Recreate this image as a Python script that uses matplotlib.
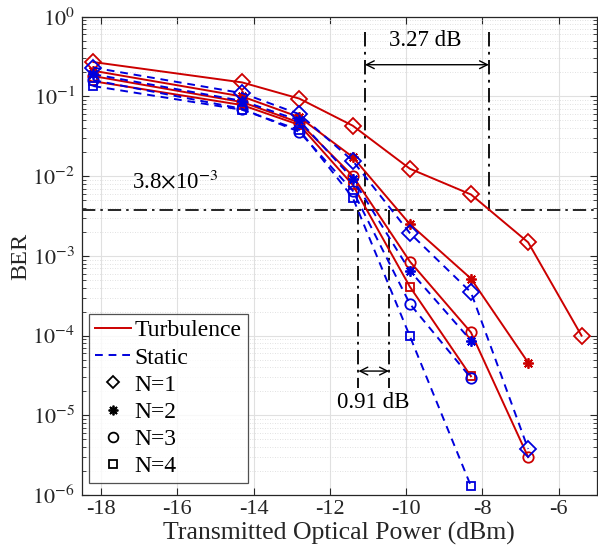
import matplotlib
matplotlib.use("Agg")
import matplotlib.pyplot as plt
import numpy as np
from matplotlib.lines import Line2D

plt.rcParams['font.family'] = ['Liberation Serif', 'DejaVu Serif']
plt.rcParams['mathtext.fontset'] = 'stix'

# ---- data ----
x_all = [-18.2, -14.3, -12.8, -11.4, -9.9, -8.3, -6.8, -5.4]

turb_n1 = [0.27, 0.15, 0.094, 0.043, 0.0124, 0.0059, 0.00148, 1.0e-4]
turb_n2 = [0.21, 0.10, 0.055, 0.0174, 0.0025, 0.00052, 4.6e-5]
turb_n3 = [0.18, 0.085, 0.047, 0.0101, 0.00085, 0.00011, 3.0e-6]
turb_n4 = [0.155, 0.078, 0.044, 0.0078, 0.00041, 3.1e-5]

stat_n1 = [0.23, 0.11, 0.060, 0.0156, 0.00193, 0.00035, 3.8e-6]
stat_n2 = [0.19, 0.088, 0.050, 0.0093, 0.00065, 8.7e-5]
stat_n3 = [0.16, 0.070, 0.036, 0.0066, 0.00025, 2.95e-5]
stat_n4 = [0.135, 0.068, 0.038, 0.0054, 9.8e-5, 1.3e-6]

threshold = 3.8e-3
gap_big = (-11.08, -7.83)
gap_small = (-11.25, -10.45)

xticks = [-18, -16, -14, -12, -10, -8, -6]
series_labels = ['Turbulence', 'Static', 'N=1', 'N=2', 'N=3', 'N=4']

RED = '#cc0000'
BLUE = '#0000dd'
ast = (8, 2, 0)
mk = ['D', ast, 'o', 's']
msz = [8, 7.5, 7.5, 5.5]
DASHDOT = (0, (8, 3, 1.5, 3))

fig = plt.figure(figsize=(5.98, 5.57), dpi=100)
ax = fig.add_axes([0.137, 0.111, 0.861, 0.859])

turb = [turb_n1, turb_n2, turb_n3, turb_n4]
stat = [stat_n1, stat_n2, stat_n3, stat_n4]

for i, ys in enumerate(turb):
    xs = x_all[:len(ys)]
    ax.semilogy(xs, ys, '-', color=RED, lw=1.4, marker=mk[i], ms=msz[i],
                mfc='none', mec=RED, mew=1.3, zorder=3)
for i, ys in enumerate(stat):
    xs = x_all[:len(ys)]
    ax.semilogy(xs, ys, '--', color=BLUE, lw=1.4, marker=mk[i], ms=msz[i],
                mfc='none', mec=BLUE, mew=1.3, zorder=3, dashes=(4, 3))

# threshold line
ax.axhline(threshold, color='black', lw=1.2, ls=DASHDOT, zorder=2)

# 3.27 dB marks
for xv in gap_big:
    ax.plot([xv, xv], [0.65, threshold], color='black', lw=1.3, ls=DASHDOT, zorder=2)
ax.annotate('', xy=(gap_big[0], 0.25), xytext=(gap_big[1], 0.25),
            arrowprops=dict(arrowstyle='<->', color='black', lw=1.0,
                            shrinkA=0, shrinkB=0, mutation_scale=14))
ax.text(-9.5, 0.5, '3.27 dB', fontsize=16.5, ha='center', va='center')

# 0.91 dB marks
for xv in gap_small:
    ax.plot([xv, xv], [threshold, 2.2e-5], color='black', lw=1.3, ls=DASHDOT, zorder=2)
ax.annotate('', xy=(gap_small[0], 3.6e-5), xytext=(gap_small[1], 3.6e-5),
            arrowprops=dict(arrowstyle='<->', color='black', lw=1.0,
                            shrinkA=0, shrinkB=0, mutation_scale=14))
ax.text(-10.87, 1.45e-5, '0.91 dB', fontsize=16.5, ha='center', va='center')

ax.text(-17.18, 8.6e-3, r'3.8$\times$10$^{-3}$', fontsize=16.5, ha='left', va='center')

ax.set_xlim(-18.5, -5.0)
ax.set_ylim(1e-6, 1)
ax.set_xticks(xticks)
ax.set_xticklabels(['-%d' % abs(t) for t in xticks])
ax.set_yticks([10.0**k for k in range(-6, 1)])
ax.set_yticklabels([r'$10^{%d}$' % k if k < 0 else r'$10^{0}$' for k in range(-6, 1)])

ax.tick_params(which='both', direction='in', top=True, right=True, colors='#262626')
ax.tick_params(axis='x', labelsize=16)
ax.tick_params(axis='y', labelsize=16, pad=5)
ax.tick_params(which='major', length=5)
ax.tick_params(which='minor', length=3)
ax.minorticks_on()
ax.xaxis.set_minor_locator(matplotlib.ticker.NullLocator())
ax.yaxis.set_minor_locator(matplotlib.ticker.LogLocator(base=10, subs=np.arange(2, 10), numticks=20))
ax.yaxis.set_minor_formatter(matplotlib.ticker.NullFormatter())

ax.grid(True, which='major', color='#e0e0e0', lw=0.8, ls='-')
ax.grid(True, which='minor', axis='y', color='#d8d8d8', lw=0.6, ls=(0, (1, 2)))
for s in ax.spines.values():
    s.set_color('#262626')
    s.set_linewidth(0.9)

ax.set_xlabel('Transmitted Optical Power (dBm)', fontsize=18.5, color='#262626', labelpad=2)
ax.set_ylabel('BER', fontsize=17.5, color='#262626')
ax.yaxis.set_label_coords(-0.098, 0.5)

handles = [
    Line2D([], [], color=RED, lw=1.4, ls='-'),
    Line2D([], [], color=BLUE, lw=1.4, ls='--', dashes=(4, 3)),
    Line2D([], [], color='black', ls='none', marker='D', ms=6, mfc='none', mew=1.3),
    Line2D([], [], color='black', ls='none', marker=ast, ms=7, mew=1.3),
    Line2D([], [], color='black', ls='none', marker='o', ms=7, mfc='none', mew=1.3),
    Line2D([], [], color='black', ls='none', marker='s', ms=5.5, mfc='none', mew=1.3),
]
leg = ax.legend(handles, series_labels, loc='lower left', bbox_to_anchor=(0.013, 0.025),
                fontsize=17, frameon=True, fancybox=False, edgecolor='#262626',
                handlelength=1.55, handletextpad=0.15, labelspacing=0.24,
                borderpad=0.25, borderaxespad=0)
leg.get_frame().set_linewidth(0.9)

fig.savefig('out.png', dpi=100)
